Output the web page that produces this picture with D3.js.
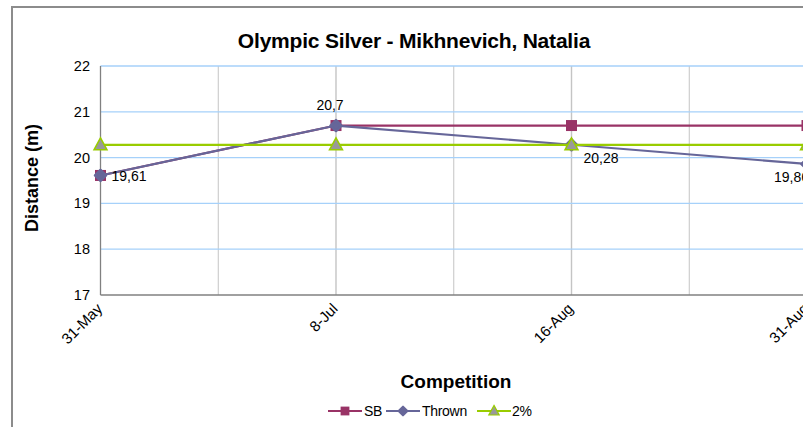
<!DOCTYPE html>
<html><head><meta charset="utf-8">
<script src="https://cdn.jsdelivr.net/npm/d3@7"></script>
<style>
html,body{margin:0;padding:0;background:#fff;overflow:hidden;}
text{font-family:"Liberation Sans",Arial,sans-serif;}
</style></head>
<body><svg id="c" width="803" height="427"></svg>
<script>
const title = "Olympic Silver - Mikhnevich, Natalia";
const categories = ["31-May", "8-Jul", "16-Aug", "31-Aug"];
const sbValues = [19.61, 20.7, 20.7, 20.7];
const thrownValues = [19.61, 20.7, 20.28, 19.86];
const twoPctValues = [20.28, 20.28, 20.28, 20.28];
const yTicks = [17, 18, 19, 20, 21, 22];
const seriesNames = ["SB", "Thrown", "2%"];
const xTitle = "Competition";
const yTitle = "Distance (m)";

const svg = d3.select("#c");
const W = 803, H = 427;
const plot = {left: 100.5, top: 66, bottom: 295};

// chart border (cropped on right and bottom)
svg.append("rect").attr("x", 12).attr("y", 7).attr("width", 900).attr("height", 500)
  .attr("fill", "#fff").attr("stroke", "#8c8c8c").attr("stroke-width", 2);

const x = d3.scaleLinear().domain([0, categories.length - 1]).range([plot.left, 807]);
const y = d3.scaleLinear().domain([17, 22]).range([plot.bottom, plot.top]);

// vertical gridlines at half-category steps
const vGrid = d3.range(0.5, categories.length, 0.5);
svg.append("g").selectAll("line").data(vGrid).join("line")
  .attr("x1", d => x(d)).attr("x2", d => x(d))
  .attr("y1", plot.top).attr("y2", plot.bottom)
  .attr("stroke", "#c4c4c4").attr("stroke-width", d => Number.isInteger(d) ? 1.4 : 1);

// horizontal gridlines
svg.append("g").selectAll("line").data(yTicks.filter(d => d > 17)).join("line")
  .attr("x1", plot.left).attr("x2", W + 10)
  .attr("y1", d => y(d)).attr("y2", d => y(d))
  .attr("stroke", "#a6d1fa").attr("stroke-width", 1.3);

// axes lines
svg.append("line").attr("x1", plot.left).attr("x2", plot.left).attr("y1", plot.top).attr("y2", plot.bottom)
  .attr("stroke", "#808080").attr("stroke-width", 1.3);
svg.append("line").attr("x1", plot.left).attr("x2", W + 10).attr("y1", plot.bottom).attr("y2", plot.bottom)
  .attr("stroke", "#808080").attr("stroke-width", 1.3);

// y tick labels
svg.append("g").selectAll("text").data(yTicks).join("text")
  .attr("x", 90).attr("y", d => y(d)).attr("dy", "0.35em")
  .attr("text-anchor", "end").attr("font-size", 14.5).attr("fill", "#000")
  .text(d => d);

// x tick labels
svg.append("g").selectAll("text").data(categories).join("text")
  .attr("transform", (d, i) => `translate(${x(i) - 1},${plot.bottom + 11}) rotate(-45)`)
  .attr("text-anchor", "end").attr("dy", "0.35em")
  .attr("font-size", 15).attr("fill", "#000")
  .text(d => d);

// titles
svg.append("text").attr("x", 414).attr("y", 48).attr("text-anchor", "middle")
  .attr("font-size", 21).attr("font-weight", "bold").attr("letter-spacing", -0.2).text(title);
svg.append("text").attr("transform", `translate(38,178) rotate(-90)`).attr("text-anchor", "middle")
  .attr("font-size", 18).attr("font-weight", "bold").text(yTitle);
svg.append("text").attr("x", 456).attr("y", 388).attr("text-anchor", "middle")
  .attr("font-size", 19).attr("font-weight", "bold").text(xTitle);

const colors = ["#993366", "#666699", "#99cc00"];
const seriesData = [sbValues, thrownValues, twoPctValues];
const line = d3.line().x((d, i) => x(i)).y(d => y(d));

function marker(g, kind, cx, cy) {
  if (kind === 0) {
    g.append("rect").attr("x", cx - 5.5).attr("y", cy - 5.5).attr("width", 11).attr("height", 11)
      .attr("fill", "#993366");
  } else if (kind === 1) {
    const r = 5.5;
    g.append("path").attr("d", `M${cx},${cy - r}L${cx + r},${cy}L${cx},${cy + r}L${cx - r},${cy}Z`)
      .attr("fill", "#666699").attr("stroke", "#666699").attr("stroke-width", 2.5).attr("stroke-linejoin", "round");
  } else {
    g.append("path").attr("d", `M${cx},${cy - 7}L${cx + 6.5},${cy + 5}L${cx - 6.5},${cy + 5}Z`)
      .attr("fill", "#999999").attr("stroke", "#99cc00").attr("stroke-width", 1.5);
  }
}

seriesData.forEach((vals, s) => {
  const g = svg.append("g");
  g.append("path").datum(vals).attr("d", line).attr("fill", "none")
    .attr("stroke", colors[s]).attr("stroke-width", 2.2);
  vals.forEach((v, i) => marker(g, s, x(i), y(v)));
});

// data labels for Thrown series
const fmt = v => String(v).replace(".", ",");
const lab = svg.append("g").attr("font-size", 14).attr("fill", "#000");
thrownValues.forEach((v, i) => {
  const px = x(i), py = y(v);
  let t;
  if (i === 0) t = lab.append("text").attr("x", px + 11).attr("y", py + 6);
  else if (i === 1) t = lab.append("text").attr("x", px - 6).attr("y", py - 16).attr("text-anchor", "middle");
  else if (i === 2) t = lab.append("text").attr("x", px + 12).attr("y", py + 18);
  else t = lab.append("text").attr("x", px + 2).attr("y", py + 18).attr("text-anchor", "end");
  t.text(fmt(v));
});

// legend
const legendItems = [
  {lx: 328, tx: 364},
  {lx: 386, tx: 422},
  {lx: 477, tx: 512}
];
const lg = svg.append("g");
seriesNames.forEach((name, s) => {
  const it = legendItems[s], ly = 411;
  lg.append("line").attr("x1", it.lx).attr("x2", it.lx + 34).attr("y1", ly).attr("y2", ly)
    .attr("stroke", colors[s]).attr("stroke-width", 2.2);
  const mg = lg.append("g").attr("transform", `translate(${it.lx + 17},${ly}) scale(0.8)`);
  marker(mg, s, 0, 0);
  lg.append("text").attr("x", it.tx).attr("y", ly).attr("dy", "0.35em").attr("font-size", 14)
    .attr("letter-spacing", -0.3).text(name);
});
</script>
</body></html>
